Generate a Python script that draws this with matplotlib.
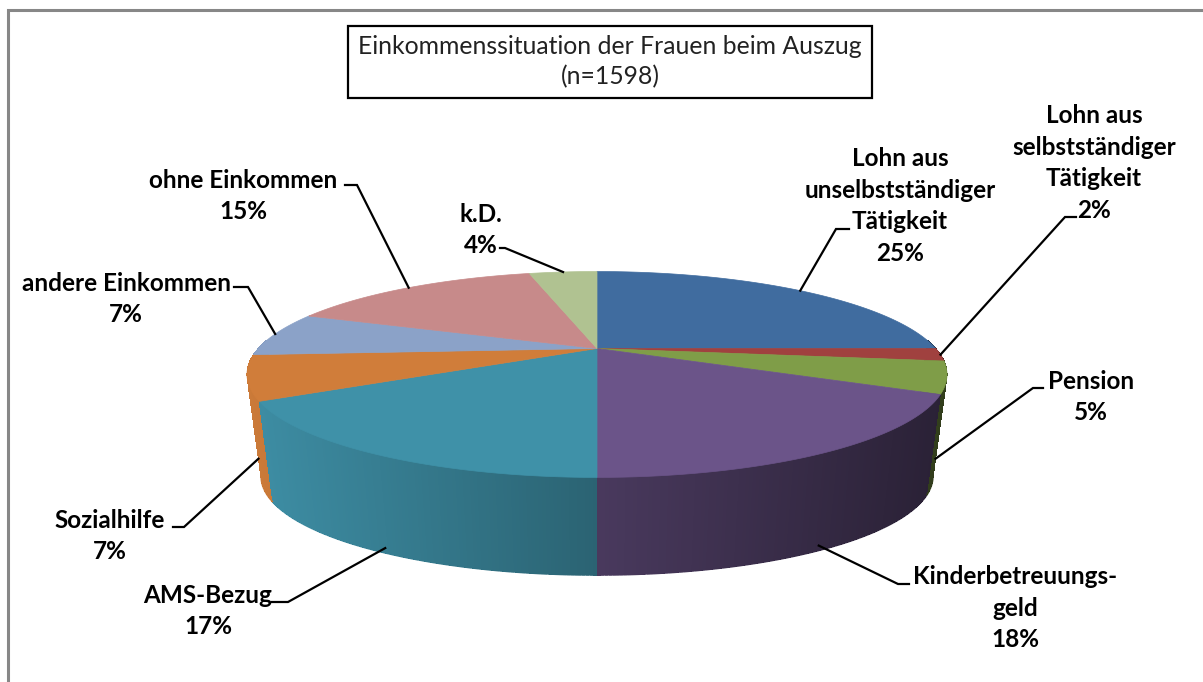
import matplotlib
matplotlib.use("Agg")
import matplotlib.pyplot as plt
from matplotlib.patches import Polygon, Rectangle
from matplotlib.collections import LineCollection
import numpy as np

# ============================================================
# DATA
# ============================================================
categories = ["Lohn aus\nunselbstständiger\nTätigkeit",
              "Lohn aus\nselbstständiger\nTätigkeit",
              "Pension",
              "Kinderbetreuungs-\ngeld",
              "AMS-Bezug",
              "Sozialhilfe",
              "andere Einkommen",
              "ohne Einkommen",
              "k.D."]
shares = [25, 2, 5, 18, 17, 7, 7, 15, 4]
title_lines = ["Einkommenssituation der Frauen beim Auszug", "(n=1598)"]

colors = ["#406C9F", "#A0413F", "#7F9D48", "#6B5489", "#3F91A8",
          "#D07D3A", "#8BA2C8", "#C78A8A", "#B0C291"]

# ============================================================
# LAYOUT (pixel coordinates, y downwards)
# ============================================================
W, H = 1203, 682
cx, cy = 597, 348.5          # pie centre on the top face
A, B, k = 338.7, 96.4, -0.2523
Ab, Bb, cyb = 325.0, 92.5, 451.3   # bottom face

# label block centre, elbow, end of horizontal stub, anchor depth on the side
label_pos = [(900, 206), (1094, 163), (1091, 397), (1015, 608), (208, 611),
             (110, 536), (126, 299), (243, 196), (481, 230)]
elbows = [(836, 229), (1065, 217), (1033, 388), (898, 584), (288, 602),
          (184, 527), (248, 287), (357, 185), (505, 248)]
stubs = [(849, 229), (1076, 217), (1043, 388), (909, 584), (272, 602),
         (173, 527), (234, 287), (345, 185), (500, 248)]
side_t = [0, 0, 0.8, 0.95, 0.95, 0.8, 0, 0, 0]

plt.rcParams['font.family'] = ['Lato', 'DejaVu Sans']


def top_pt(phi):
    u, v = np.sin(phi), -np.cos(phi)
    d = 1 + k * v
    return cx + A * u / d, cy + B * v / d


def bot_pt(phi):
    u, v = np.sin(phi), -np.cos(phi)
    d = 1 + k * v
    return cx + Ab * u / d, cyb + Bb * v / d


def shade(col, x):
    f = 0.97 - (x - 255) / (935 - 255) * 0.57
    f = min(max(f, 0.38), 1.0)
    r, g, b = matplotlib.colors.to_rgb(col)
    return (r * f, g * f, b * f)


fig = plt.figure(figsize=(W / 100, H / 100), dpi=100)
ax = fig.add_axes([0, 0, 1, 1])
ax.set_xlim(0, W)
ax.set_ylim(H, 0)
ax.axis('off')

# slice angles (clockwise from 12 o'clock)
fr = np.array(shares) / sum(shares)
edges = np.concatenate([[0], np.cumsum(fr)]) * 2 * np.pi

# ============================================================
# SIDE WALL (painter's order, back to front)
# ============================================================
quads = []
rim_segs, rim_cols = [], []
for i in range(len(shares)):
    a0, a1 = edges[i], edges[i + 1]
    lo, hi = max(a0, np.radians(85)), min(a1, np.radians(275))
    if hi <= lo:
        continue
    n = max(int(np.degrees(hi - lo) / 0.5), 1)
    ph = np.linspace(lo, hi, n + 1)
    for j in range(n):
        p0, p1 = ph[j], ph[j + 1]
        t0, t1 = top_pt(p0), top_pt(p1)
        b0, b1 = bot_pt(p0), bot_pt(p1)
        xm = (t0[0] + t1[0]) / 2
        vm = -np.cos((p0 + p1) / 2)
        c = shade(colors[i], xm)
        quads.append((vm, [t0, t1, b1, b0], c))
        if vm > 0.2:
            rim_segs.append([b0, b1])
            rim_cols.append(c)

quads.sort(key=lambda q: q[0])
for vm, pts, c in quads:
    ax.add_patch(Polygon(pts, closed=True, facecolor=c, lw=0,
                         antialiased=False))
# smooth lower outline of the wall
ax.add_collection(LineCollection(rim_segs, colors=rim_cols, lw=1.2))

# ============================================================
# TOP FACE
# ============================================================
for i in range(len(shares)):
    ph = np.linspace(edges[i], edges[i + 1], 200)
    pts = [(cx, cy)] + [top_pt(p) for p in ph]
    ax.add_patch(Polygon(pts, closed=True, facecolor=colors[i],
                         edgecolor=colors[i], lw=0.5))

# ============================================================
# LABELS WITH LEADER LINES
# ============================================================
for i, name in enumerate(categories):
    mid = (edges[i] + edges[i + 1]) / 2
    tx, ty = top_pt(mid)
    bx, by = bot_pt(mid)
    t = side_t[i]
    ax0, ay0 = tx + t * (bx - tx), ty + t * (by - ty)
    ex, ey = elbows[i]
    sx, sy = stubs[i]
    ax.plot([ax0, ex, sx], [ay0, ey, sy], color='black', lw=1.6,
            solid_joinstyle='miter')
    lx, ly = label_pos[i]
    ax.text(lx, ly, f"{name}\n{shares[i]}%", ha='center', va='center',
            fontsize=17.5, fontweight='bold', linespacing=1.46, color='black')

# ============================================================
# TITLE BOX AND CHART FRAME
# ============================================================
ax.add_patch(Rectangle((348, 26), 524, 72, facecolor='white',
                       edgecolor='black', lw=1.6))
ax.text(610, 47, title_lines[0], ha='center', va='center', fontsize=17.8,
        color='#222222')
ax.text(610, 77, title_lines[1], ha='center', va='center', fontsize=17.8,
        color='#222222')

ax.plot([8, 8, W], [H, 10, 10], color='#878787', lw=2.2,
        solid_joinstyle='miter')

fig.savefig("out.png", dpi=100)
